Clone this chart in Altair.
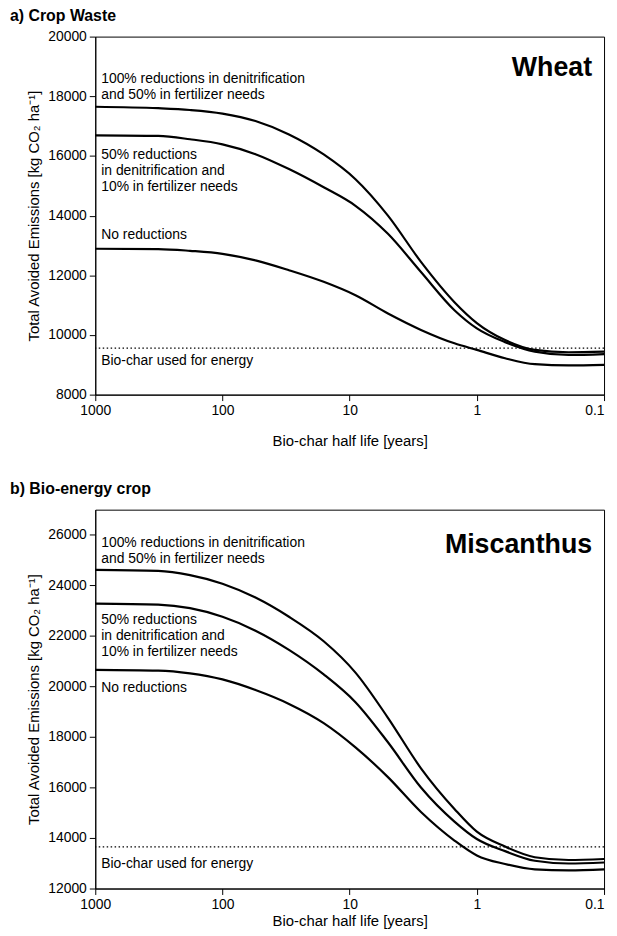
import altair as alt
import pandas as pd

# Bio-char half life [years]
half_life = [1000, 320, 180, 100, 55, 30, 16, 9, 5, 2.75, 1.5, 1, 0.6, 0.35, 0.19, 0.1]

# a) Crop waste - Wheat
wheat_full = [17650, 17600, 17540, 17420, 17170, 16720, 16050, 15220, 14000, 12450, 11100, 10400, 9830, 9500, 9420, 9440]
wheat_half = [16690, 16670, 16560, 16390, 16060, 15560, 14950, 14330, 13390, 12110, 10830, 10220, 9760, 9440, 9330, 9360]
wheat_none = [12890, 12880, 12820, 12720, 12500, 12170, 11780, 11330, 10720, 10170, 9720, 9500, 9220, 9020, 8980, 9000]
wheat_energy = 9560

# b) Bio-energy crop - Miscanthus
misc_full = [24620, 24580, 24410, 24070, 23520, 22760, 21790, 20550, 18760, 16760, 15150, 14250, 13660, 13240, 13130, 13170]
misc_half = [23280, 23240, 23100, 22760, 22210, 21450, 20480, 19380, 17790, 16000, 14650, 13960, 13480, 13100, 12990, 13030]
misc_none = [20660, 20630, 20520, 20280, 19860, 19310, 18550, 17590, 16410, 15030, 13900, 13310, 12970, 12760, 12720, 12760]
misc_energy = 13650

series_names = ["full", "half", "none"]
labels = [
    "100% reductions in denitrification\nand 50% in fertilizer needs",
    "50% reductions\nin denitrification and\n10% in fertilizer needs",
    "No reductions",
    "Bio-char used for energy",
]
wheat_label_y = [18450, 15900, 13200, 8980]
misc_label_y = [25520, 22480, 19790, 12800]

x_ticks = [1000, 100, 10, 1, 0.1]
wheat_y_ticks = [8000, 10000, 12000, 14000, 16000, 18000, 20000]
misc_y_ticks = [12000, 14000, 16000, 18000, 20000, 22000, 24000, 26000]

FONT = "Liberation Sans"


def panel(title, crop, crop_y, series, energy, label_y, ydomain, yticks, h, xtitle_pad):
    rows = []
    for name, vals in zip(series_names, series):
        for x, v in zip(half_life, vals):
            rows.append({"half_life": x, "value": v, "series": name})
    df = pd.DataFrame(rows)

    xscale = alt.Scale(type="log", domain=[0.1, 1000], reverse=True, nice=False)
    yscale = alt.Scale(domain=ydomain, nice=False, zero=False)

    base_x = alt.X(
        "half_life:Q", scale=xscale,
        axis=alt.Axis(
            values=x_ticks, format="~g", title="Bio-char half life [years]",
            titlePadding=xtitle_pad,
            labelAlign=alt.ExprRef(expr="datum.value < 0.5 ? 'right' : 'center'"),
        ),
    )
    base_y = alt.Y(
        "value:Q", scale=yscale,
        axis=alt.Axis(values=yticks, format="d", title="Total Avoided Emissions [kg CO\u2082 ha\u207b\u00b9]"),
    )

    lines = alt.Chart(df).mark_line(color="black", strokeWidth=2.2, interpolate="monotone").encode(
        x=base_x, y=base_y, detail="series:N"
    )

    rule = alt.Chart(pd.DataFrame({"value": [energy]})).mark_rule(
        color="black", strokeDash=[1.5, 2.5], strokeWidth=1.3
    ).encode(y=alt.Y("value:Q", scale=yscale))

    ann = pd.DataFrame({"half_life": [half_life[0]] * len(labels), "value": label_y, "label": labels})
    texts = alt.Chart(ann).mark_text(
        align="left", baseline="alphabetic", dx=6, font=FONT, fontSize=14,
        lineBreak="\n", lineHeight=16, color="black"
    ).encode(
        x=alt.X("half_life:Q", scale=xscale), y=alt.Y("value:Q", scale=yscale), text="label:N"
    )

    crop_df = pd.DataFrame({"half_life": [half_life[-1]], "value": [crop_y], "label": [crop]})
    crop_text = alt.Chart(crop_df).mark_text(
        align="right", baseline="alphabetic", dx=-12, font=FONT, fontSize=27,
        fontWeight="bold", color="black"
    ).encode(
        x=alt.X("half_life:Q", scale=xscale), y=alt.Y("value:Q", scale=yscale), text="label:N"
    )

    head = alt.Chart(pd.DataFrame({"t": [title]})).mark_text(
        align="left", baseline="top", font=FONT, fontSize=16,
        fontWeight="bold", color="black"
    ).encode(x=alt.value(-86), y=alt.value(-29), text="t:N")

    return alt.layer(lines, rule, texts, crop_text, head).properties(width=513, height=h)


top = panel("a) Crop Waste", "Wheat", 18670, [wheat_full, wheat_half, wheat_none],
            wheat_energy, wheat_label_y, [8000, 20000], wheat_y_ticks, 361, 16)
bottom = panel("b) Bio-energy crop", "Miscanthus", 25270, [misc_full, misc_half, misc_none],
               misc_energy, misc_label_y, [12000, 27000], misc_y_ticks, 382, 2)

chart = alt.vconcat(top, bottom, spacing=31).properties(
    padding={"left": 1, "top": -5, "right": 0, "bottom": 0}
).configure_view(
    stroke="black", strokeWidth=1
).configure_axis(
    grid=False, domainColor="black", tickColor="black", labelColor="black",
    titleColor="black", labelFont=FONT, titleFont=FONT, labelFontSize=14,
    titleFontSize=15, titleFontWeight="normal", tickSize=6, labelPadding=3,
    domainWidth=1, tickWidth=1,
).configure_axisY(titlePadding=6)

chart.save("out.html", embed_options={"renderer": "svg", "actions": False})
